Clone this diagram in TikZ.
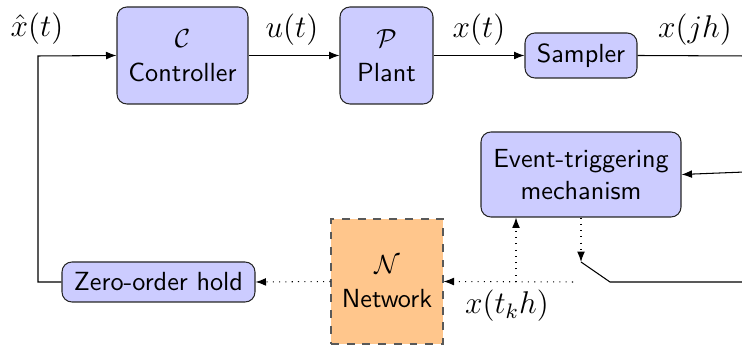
\documentclass[tikz,border=0pt]{standalone}
\usetikzlibrary{arrows.meta}
\begin{document}
\begin{tikzpicture}[x=0.3817pt,y=-0.3817pt,
  blk/.style={draw=black!85,fill=blue!20,rounded corners=3.8pt,align=center,font=\sffamily,inner sep=0pt},
  net/.style={draw=black!65,dashed,fill=orange!45,align=center,font=\sffamily,inner sep=0pt},
  lbl/.style={font=\large},
  arr/.style={-{Latex[length=4pt,width=3pt]}},
  dot/.style={dotted,-{Latex[length=4pt,width=3pt]}}]
\useasboundingbox (0,0) rectangle (742,345);
\node[blk,minimum width=131*0.3817pt,minimum height=97*0.3817pt] (ctrl) at (182.5,55.5) {$\mathcal{C}$\\[1pt]Controller};
\node[blk,minimum width=93*0.3817pt,minimum height=97*0.3817pt] (plant) at (386.5,55.5) {$\mathcal{P}$\\[1pt]Plant};
\node[blk,minimum width=112*0.3817pt,minimum height=45*0.3817pt] (samp) at (581,55.5) {Sampler};
\node[blk,minimum width=200*0.3817pt,minimum height=85*0.3817pt] (etm) at (581,174.5) {Event-triggering\\mechanism};
\node[net,minimum width=112*0.3817pt,minimum height=125*0.3817pt] (net) at (387,281.5) {$\mathcal{N}$\\[1pt]Network};
\node[blk,minimum width=193*0.3817pt,minimum height=40*0.3817pt] (zoh) at (158.5,282) {Zero-order hold};
\node[lbl] (lx) at (37,29) {$\hat{x}(t)$};
\node[lbl] (lu) at (292,30) {$u(t)$};
\node[lbl] (lxt) at (479,30) {$x(t)$};
\node[lbl] (lxj) at (695,30) {$x(jh)$};
\node[lbl] (lxk) at (507,306) {$x(t_kh)$};
\coordinate (c1) at (38,282);
\coordinate (c2) at (38,56);
\coordinate (r1) at (745,56);
\coordinate (r2) at (745,172);
\coordinate (r3) at (745,282);
\coordinate (sw0) at (581,262);
\coordinate (sw1) at (610,282);
\coordinate (d0) at (573,282);
\coordinate (d1) at (516,282);
\draw[arr] (zoh.west) -- (c1) -- (c2) -- (ctrl.west);
\draw[arr] (ctrl.east) -- (plant.west);
\draw[arr] (plant.east) -- (samp.west);
\draw (samp.east) -- (r1);
\draw[arr] (r2) -- (etm.east);
\draw[dot] (etm.south) -- (sw0);
\draw (sw0) -- (sw1) -- (r3);
\draw[dot] (d0) -- (net.east);
\draw[dot] (d1) -- (d1 |- etm.south);
\draw[dot] (net.west) -- (zoh.east);
\end{tikzpicture}
\end{document}
